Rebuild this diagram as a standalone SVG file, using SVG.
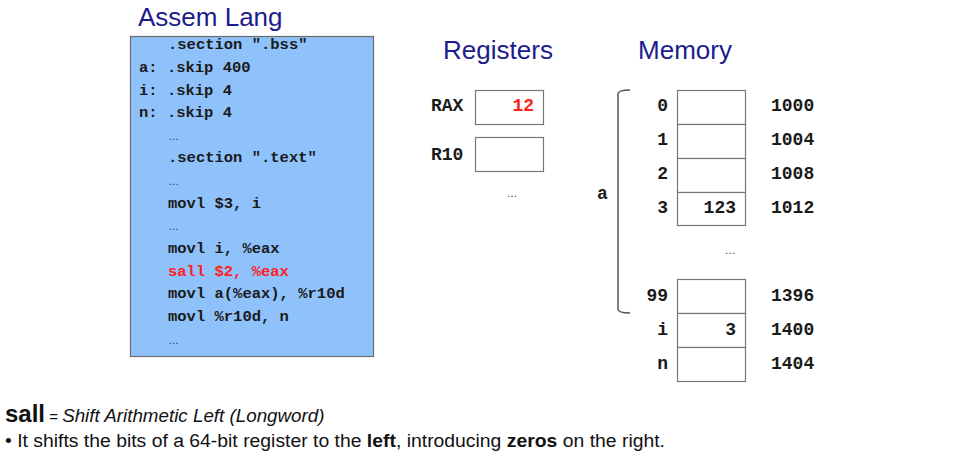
<svg xmlns="http://www.w3.org/2000/svg" width="963" height="461" viewBox="0 0 963 461">
<style>
.title{font-family:"Liberation Sans",Arial,sans-serif;font-size:26px;fill:#1c1c8e}
.code{font-family:"Liberation Mono","Courier New",monospace;font-size:15.5px;font-weight:bold;fill:#1a1a1a}
.ell{font-family:"Liberation Sans",Arial,sans-serif;font-size:11px;fill:#333}
.lbl{font-family:"Liberation Mono","Courier New",monospace;font-size:18px;font-weight:bold;fill:#1a1a1a}
.red{fill:#ff2020}
.cell{fill:#fff;stroke:#777;stroke-width:1.2}
.txt{font-family:"Liberation Sans",Arial,sans-serif;font-size:18px;fill:#111}
</style>
<rect width="963" height="461" fill="#fff"/>

<g id="code">
<text class="title" x="138" y="26">Assem Lang</text>
<rect x="130.5" y="36.5" width="243" height="320" fill="#8fc2fb" stroke="#6b6b6b" stroke-width="1.2"/>
<text class="code" x="168" y="49">.section ".bss"</text>
<text class="code" x="139" y="72">a: .skip 400</text>
<text class="code" x="139" y="95">i: .skip 4</text>
<text class="code" x="139" y="117">n: .skip 4</text>
<text class="ell" x="168" y="140">…</text>
<text class="code" x="168" y="162">.section ".text"</text>
<text class="ell" x="168" y="185">…</text>
<text class="code" x="168" y="208">movl $3, i</text>
<text class="ell" x="168" y="230">…</text>
<text class="code" x="168" y="253">movl i, %eax</text>
<text class="code red" x="168" y="276">sall $2, %eax</text>
<text class="code" x="168" y="298">movl a(%eax), %r10d</text>
<text class="code" x="168" y="321">movl %r10d, n</text>
<text class="ell" x="168" y="344">…</text>
</g>

<g id="registers">
<text class="title" x="498" y="59" text-anchor="middle">Registers</text>
<g id="rax">
<text class="lbl" x="431" y="111">RAX</text>
<rect class="cell" x="475.5" y="90.5" width="68" height="34"/>
<text class="lbl red" x="534" y="111" text-anchor="end">12</text>
</g>
<g id="r10">
<text class="lbl" x="431" y="160">R10</text>
<rect class="cell" x="475.5" y="137.5" width="68" height="34"/>
</g>
<text class="ell" x="512" y="197" text-anchor="middle">…</text>
</g>

<g id="memory">
<text class="title" x="685" y="59" text-anchor="middle">Memory</text>
<g id="array-a">
<path d="M630,90 Q618,90 618,94 L618,309 Q618,313 630,313" fill="none" stroke="#555" stroke-width="1.5"/>
<text class="lbl" x="597" y="199">a</text>
</g>
<g id="cell0"><rect class="cell" x="677.5" y="90.5" width="68" height="34"/><text class="lbl" x="668" y="111" text-anchor="end">0</text><text class="lbl" x="771" y="111">1000</text></g>
<g id="cell1"><rect class="cell" x="677.5" y="124.5" width="68" height="34"/><text class="lbl" x="668" y="145" text-anchor="end">1</text><text class="lbl" x="771" y="145">1004</text></g>
<g id="cell2"><rect class="cell" x="677.5" y="158.5" width="68" height="34"/><text class="lbl" x="668" y="179" text-anchor="end">2</text><text class="lbl" x="771" y="179">1008</text></g>
<g id="cell3"><rect class="cell" x="677.5" y="192.5" width="68" height="33"/><text class="lbl" x="668" y="213" text-anchor="end">3</text><text class="lbl" x="736" y="213" text-anchor="end">123</text><text class="lbl" x="771" y="213">1012</text></g>
<text class="ell" x="730" y="254" text-anchor="middle">…</text>
<g id="cell99"><rect class="cell" x="677.5" y="279.5" width="68" height="34"/><text class="lbl" x="668" y="301" text-anchor="end">99</text><text class="lbl" x="771" y="301">1396</text></g>
<g id="cell-i"><rect class="cell" x="677.5" y="313.5" width="68" height="34"/><text class="lbl" x="668" y="335" text-anchor="end">i</text><text class="lbl" x="736" y="335" text-anchor="end">3</text><text class="lbl" x="771" y="335">1400</text></g>
<g id="cell-n"><rect class="cell" x="677.5" y="347.5" width="68" height="34"/><text class="lbl" x="668" y="369" text-anchor="end">n</text><text class="lbl" x="771" y="369">1404</text></g>
</g>

<g id="connectors"></g>

<g id="note">
<text x="5" y="422" class="txt"><tspan font-weight="bold" font-size="24px">sall</tspan><tspan font-size="15px"> = </tspan><tspan font-style="italic" font-size="18.8px">Shift Arithmetic Left (Longword)</tspan></text>
<text x="5" y="447" class="txt" textLength="660" lengthAdjust="spacingAndGlyphs">• It shifts the bits of a 64-bit register to the <tspan font-weight="bold">left</tspan>, introducing <tspan font-weight="bold">zeros</tspan> on the right.</text>
</g>
</svg>
